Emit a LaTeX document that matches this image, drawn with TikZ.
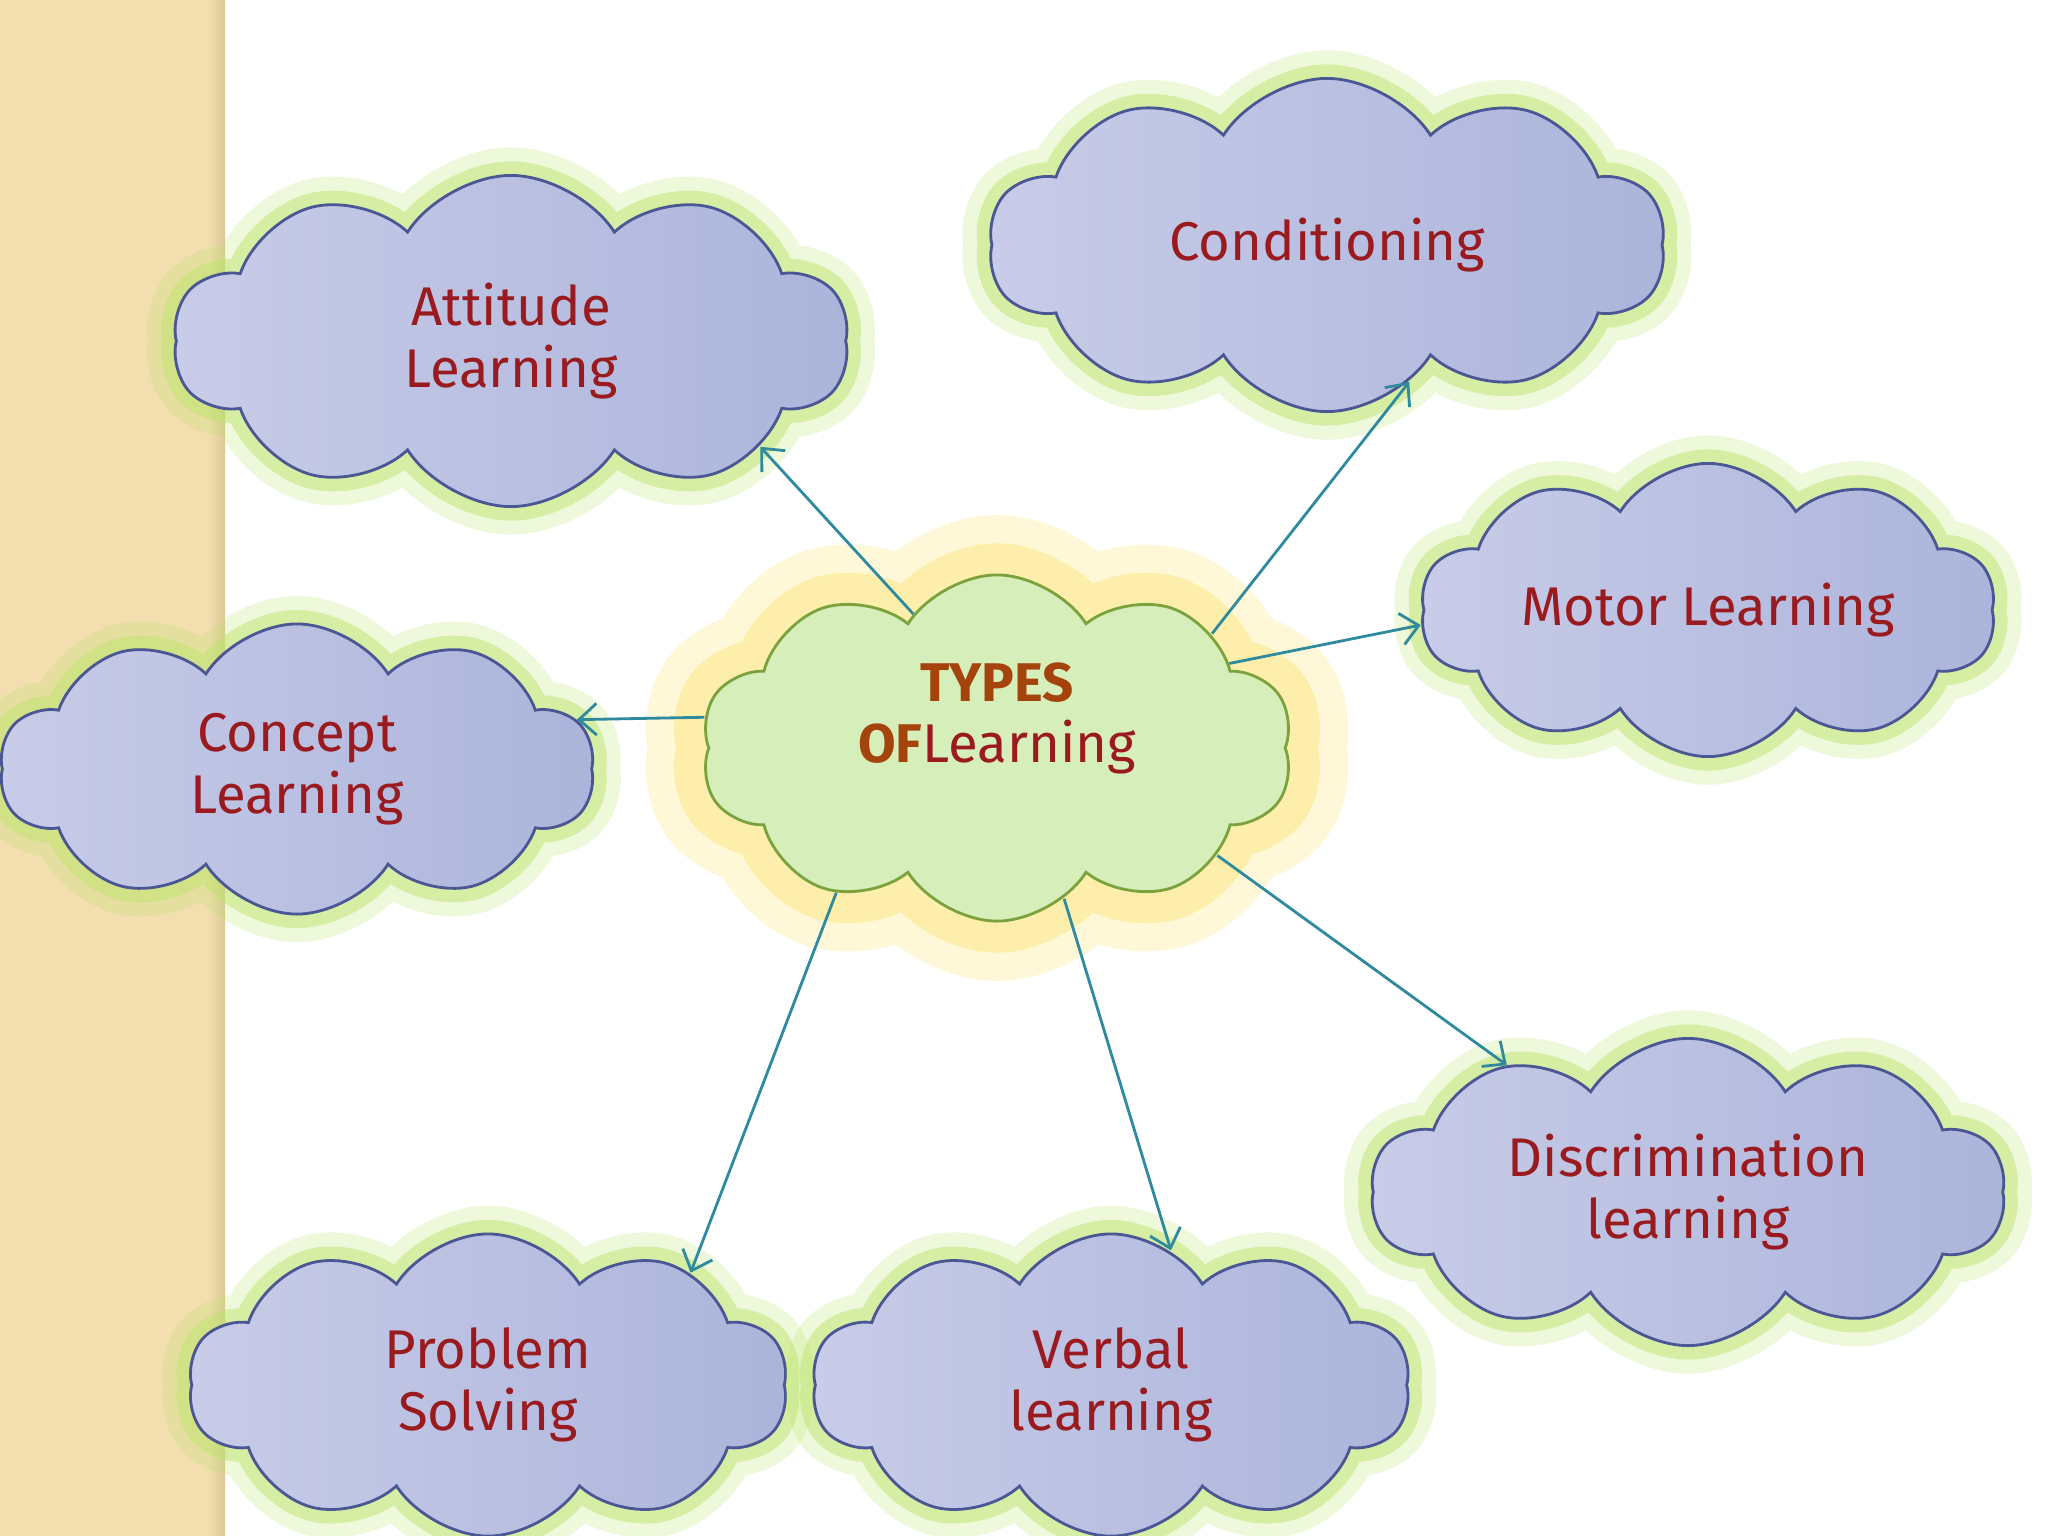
\documentclass[tikz,border=0pt]{standalone}
\usepackage{fontspec}
\setmainfont{Fira Sans}
\usetikzlibrary{shapes.symbols,arrows.meta}

\definecolor{cloudblue}{HTML}{C8CCE8}
\definecolor{cloudblueb}{HTML}{ACB4DB}
\definecolor{cloudedge}{HTML}{4B5694}
\definecolor{glowgreen}{HTML}{BDE36E}
\definecolor{centergreen}{HTML}{D5EEBA}
\definecolor{centeredge}{HTML}{7BA23C}
\definecolor{glowyellow}{HTML}{FCEA8E}
\definecolor{labelred}{HTML}{9A1B1F}
\definecolor{labelbrown}{HTML}{A4440C}
\definecolor{arrowteal}{HTML}{2F8A9E}
\definecolor{strip}{HTML}{F3DEB0}
\definecolor{stripdark}{HTML}{DCC896}
\def\txt{\fontsize{15.5}{17.5}\selectfont}
\tikzstyle{topic}=[draw=cloudedge,cloud,cloud puffs=10,cloud puff arc=115,
                   cloud ignores aspect,inner sep=0pt,line width=0.8pt,
                   left color=cloudblue,right color=cloudblueb,text=labelred,
                   align=center,font=\txt,
                   preaction={draw=glowgreen,line width=16pt,opacity=0.25},
                   preaction={draw=glowgreen,line width=8pt,opacity=0.5}]
\tikzstyle{maintopic}=[draw=centeredge,cloud,cloud puffs=10,cloud puff arc=115,
                   cloud ignores aspect,inner sep=0pt,line width=0.8pt,
                   fill=centergreen,text=labelred,align=center,font=\txt,
                   text depth=20pt,
                   preaction={draw=glowyellow,line width=34pt,opacity=0.35},
                   preaction={draw=glowyellow,line width=18pt,opacity=0.6}]
\tikzstyle{cedge}=[color=arrowteal,line width=0.8pt,
                   -{Straight Barb[length=5pt,width=9pt]}]

\begin{document}
\begin{tikzpicture}[x=0.01cm,y=-0.01cm]
  \useasboundingbox (0,0) rectangle (2048,1536);
  % Place side strip
  \fill[strip] (0,0) rectangle (225,1536);
  \shade[left color=strip,right color=stripdark] (208,0) rectangle (225,1536);

  % Place types
  \node[topic,minimum width=6.75cm,minimum height=3.31cm] (att) at (511,341)
       {Attitude\\Learning};
  \node[topic,minimum width=6.76cm,minimum height=3.33cm] (cond) at (1327,245)
       {Conditioning};
  \node[topic,minimum width=5.75cm,minimum height=2.93cm] (motor) at (1708,610)
       {Motor Learning};
  \node[topic,minimum width=5.94cm,minimum height=2.90cm] (concept) at (297,769)
       {Concept\\Learning};
  \node[topic,minimum width=5.99cm,minimum height=3.02cm] (problem) at (488,1385)
       {Problem\\Solving};
  \node[topic,minimum width=5.98cm,minimum height=3.02cm] (verbal) at (1111,1385)
       {Verbal\\learning};
  \node[topic,minimum width=6.34cm,minimum height=3.07cm] (discr) at (1688,1192)
       {Discrimination\\learning};

  % Place main topic
  \node[maintopic,minimum width=5.92cm,minimum height=3.46cm] (types) at (997,748)
       {{\color{labelbrown}\bfseries TYPES}\\{\color{labelbrown}\bfseries OF}Learning};

  \path[cedge] (types.122) edge (att.337);
  \path[cedge] (types.28) edge (cond.301);
  \path[cedge] (types.20) edge (motor.183);
  \path[cedge] (types.174) edge (concept.10);
  \path[cedge] (types.222) edge (problem.29);
  \path[cedge] (types.294) edge (verbal.66);
  \path[cedge] (types.334) edge (discr.145);

\end{tikzpicture}
\end{document}
